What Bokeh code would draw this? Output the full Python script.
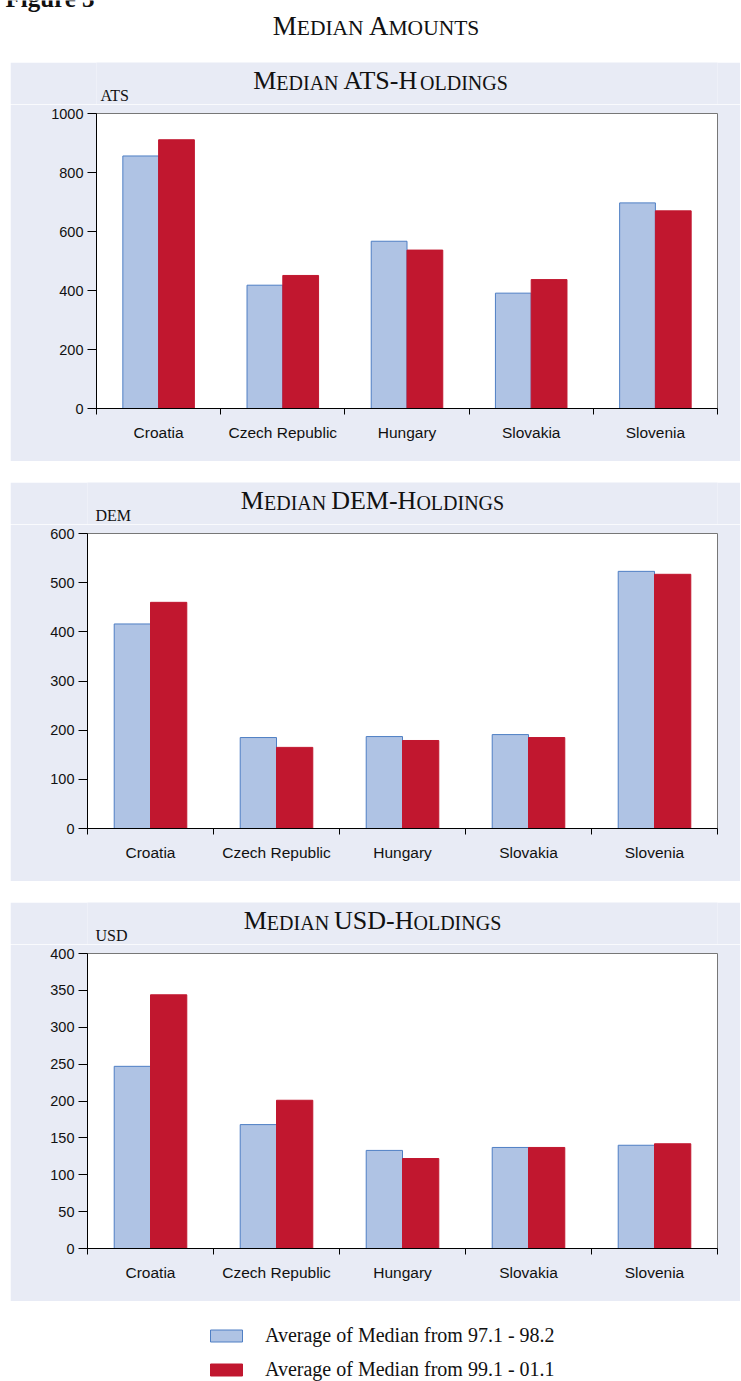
from bokeh.plotting import figure
from bokeh.models import Range1d, FixedTicker, Legend, LegendItem, ColumnDataSource
from bokeh.layouts import column
from bokeh.core.properties import value
from bokeh.embed import file_html
from bokeh.resources import INLINE
import numpy as np

# ---------------- data ----------------
countries = ["Croatia", "Czech Republic", "Hungary", "Slovakia", "Slovenia"]
ats_early = [856, 418, 567, 391, 697]
ats_late = [911, 451, 537, 437, 670]
dem_early = [416, 185, 187, 191, 523]
dem_late = [460, 165, 179, 185, 517]
usd_early = [247, 168, 133, 137, 140]
usd_late = [344, 201, 122, 137, 142]
ats_ticks = [0, 200, 400, 600, 800, 1000]
dem_ticks = [0, 100, 200, 300, 400, 500, 600]
usd_ticks = [0, 50, 100, 150, 200, 250, 300, 350, 400]
series_labels = ["Average of Median from 97.1 - 98.2", "Average of Median from 99.1 - 01.1"]
figure_label = "Figure 3"
main_title = "Median Amounts"
panel_titles = ["Median ATS-Holdings", "Median DEM-Holdings", "Median USD-Holdings"]
units = ["ATS", "DEM", "USD"]

# ---------------- style ----------------
W = 730          # panel width
FW = 740         # full width (title / legend rows)
RIGHT = 23
HEAD = 42
BG = "#E8EBF5"
BLUE = "#AFC3E4"
BLUE_LINE = "#4F7FC4"
RED = "#C1172F"
SERIF = "Liberation Serif"
SANS = "Liberation Sans"
TXT = "#111111"
MID = 0.3375  # baseline -> middle of line box (em)

TIMES = {'A': 722, 'D': 722, 'E': 611, 'G': 722, 'H': 722, 'I': 333, 'L': 611,
         'M': 889, 'N': 722, 'O': 722, 'S': 556, 'T': 611, 'U': 722, ' ': 250, '-': 333}


def smallcaps_runs(s, big, small, cx, baseline):
    runs = []
    for ch in s:
        if ch.islower() or ch == ' ':
            sz, c = small, ch.upper()
        else:
            sz, c = big, ch
        if runs and runs[-1][1] == sz:
            runs[-1][0] += c
        else:
            runs.append([c, sz])
    widths = [sum(TIMES.get(c, 600) for c in t) * sz / 1000.0 for t, sz in runs]
    x = cx - sum(widths) / 2.0
    xs = []
    for w in widths:
        xs.append(x)
        x += w
    return dict(x=xs, y=[baseline - MID * sz for _, sz in runs], text=[t for t, _ in runs],
                size=["%gpx" % sz for _, sz in runs])


def text_fig(width, height, bg, left=0, right=0):
    f = figure(width=width, height=height, x_range=Range1d(left, width - right),
               y_range=Range1d(height, 0),
               toolbar_location=None, output_backend="svg", min_border=0,
               min_border_left=left, min_border_right=right,
               x_axis_location=None, y_axis_location=None)
    f.grid.visible = False
    f.outline_line_color = None
    f.background_fill_color = bg
    f.border_fill_color = bg
    return f


# top row: figure label (cropped at the page top, as in the source) and main title
tf = text_fig(FW, 41, "white")
tf.text(x=[5], y=[6 - MID * 25], text=[figure_label], text_font_size="25px",
        text_font=value(SERIF), text_font_style="bold", text_baseline="middle",
        text_align="left", text_color=TXT)
tf.text(x='x', y='y', text='text', text_font_size='size', text_font=value(SERIF),
        text_baseline="middle", text_align="left", text_color=TXT,
        source=ColumnDataSource(smallcaps_runs(main_title, 27, 21.5, 375.5, 35)))


def header(title, cx, unit, ux, uy, left):
    h = text_fig(W, HEAD, BG, left, RIGHT)
    h.text(x='x', y='y', text='text', text_font_size='size', text_font=value(SERIF),
           text_baseline="middle", text_align="left", text_color=TXT,
           source=ColumnDataSource(smallcaps_runs(title, 26, 20, cx, 27)))
    h.text(x=[ux], y=[uy - MID * 16], text=[unit], text_font_size="16px",
           text_font=value(SERIF), text_baseline="middle", text_align="left", text_color=TXT)
    return h


def panel(early, late, ticks, left):
    p = figure(width=W, height=399 - HEAD, x_range=Range1d(0, len(countries)),
               y_range=Range1d(0, ticks[-1]), toolbar_location=None, output_backend="svg",
               min_border_left=left, min_border_right=RIGHT, min_border_top=51 - HEAD,
               min_border_bottom=53)
    p.background_fill_color = "white"
    p.border_fill_color = BG
    p.outline_line_color = "#777777"
    p.grid.visible = False
    centers = np.arange(len(countries)) + 0.5
    bw = 0.288
    p.vbar(x=centers - bw / 2, top=early, width=bw, bottom=0, fill_color=BLUE,
           line_color=BLUE_LINE, line_width=1)
    p.vbar(x=centers + bw / 2, top=late, width=bw, bottom=0, fill_color=RED,
           line_color=RED, line_width=1)
    xa = p.xaxis[0]
    xa.ticker = FixedTicker(ticks=list(centers), minor_ticks=list(range(len(countries) + 1)))
    xa.major_label_overrides = {float(c): n for c, n in zip(centers, countries)}
    xa.major_tick_line_color = None
    xa.major_tick_out = 0
    xa.major_tick_in = 0
    xa.minor_tick_line_color = "black"
    xa.minor_tick_out = 6
    xa.minor_tick_in = 0
    xa.major_label_standoff = 9
    xa.major_label_text_font = SANS
    xa.major_label_text_font_size = "15.5px"
    xa.major_label_text_color = TXT
    xa.axis_line_color = "black"
    ya = p.yaxis[0]
    ya.ticker = FixedTicker(ticks=ticks)
    ya.major_tick_out = 9
    ya.major_tick_in = 0
    ya.minor_tick_line_color = None
    ya.major_tick_line_color = "black"
    ya.major_label_standoff = 4
    ya.major_label_text_font = SANS
    ya.major_label_text_font_size = "14.5px"
    ya.major_label_text_color = TXT
    ya.axis_line_color = "black"
    return p


h1 = header(panel_titles[0], 370, units[0], 90, 38.5, 86)
p1 = panel(ats_early, ats_late, ats_ticks, 86)
h2 = header(panel_titles[1], 362, units[1], 85, 38, 77)
p2 = panel(dem_early, dem_late, dem_ticks, 77)
h3 = header(panel_titles[2], 362, units[2], 85, 38, 77)
p3 = panel(usd_early, usd_late, usd_ticks, 77)

# legend row: the series renderers are muted with fully transparent muted glyphs,
# so only their legend swatches are drawn
lf = figure(width=FW, height=59, x_range=Range1d(0, len(countries)), y_range=Range1d(0, 400),
            toolbar_location=None, output_backend="svg", min_border=0,
            x_axis_location=None, y_axis_location=None)
lf.grid.visible = False
lf.outline_line_color = None
lf.background_fill_color = "white"
lf.border_fill_color = "white"
lc = np.arange(len(countries)) + 0.5
r1 = lf.vbar(x=lc, top=usd_early, bottom=0, width=0.2, fill_color=BLUE, line_color=BLUE_LINE,
             muted_fill_alpha=0, muted_line_alpha=0)
r2 = lf.vbar(x=lc, top=usd_late, bottom=0, width=0.2, fill_color=RED, line_color=RED,
             muted_fill_alpha=0, muted_line_alpha=0)
r1.muted = True
r2.muted = True
legend = Legend(items=[LegendItem(label=series_labels[0], renderers=[r1]),
                       LegendItem(label=series_labels[1], renderers=[r2])],
                location=(206, 0), orientation="vertical", glyph_width=40, glyph_height=15,
                label_standoff=19, spacing=11, padding=0, margin=0, click_policy="none",
                border_line_color=None, background_fill_alpha=0,
                label_text_font=SERIF, label_text_font_size="20px", label_text_color=TXT)
lf.add_layout(legend, "center")

root = column(tf,
              column(h1, p1, spacing=0, margin=(0, 0, 0, 10)),
              column(h2, p2, spacing=0, margin=(0, 0, 0, 10)),
              column(h3, p3, spacing=0, margin=(0, 0, 0, 10)),
              lf, spacing=21, margin=(0, 0, 0, 0))

open("out.html", "w").write(file_html(root, INLINE))
